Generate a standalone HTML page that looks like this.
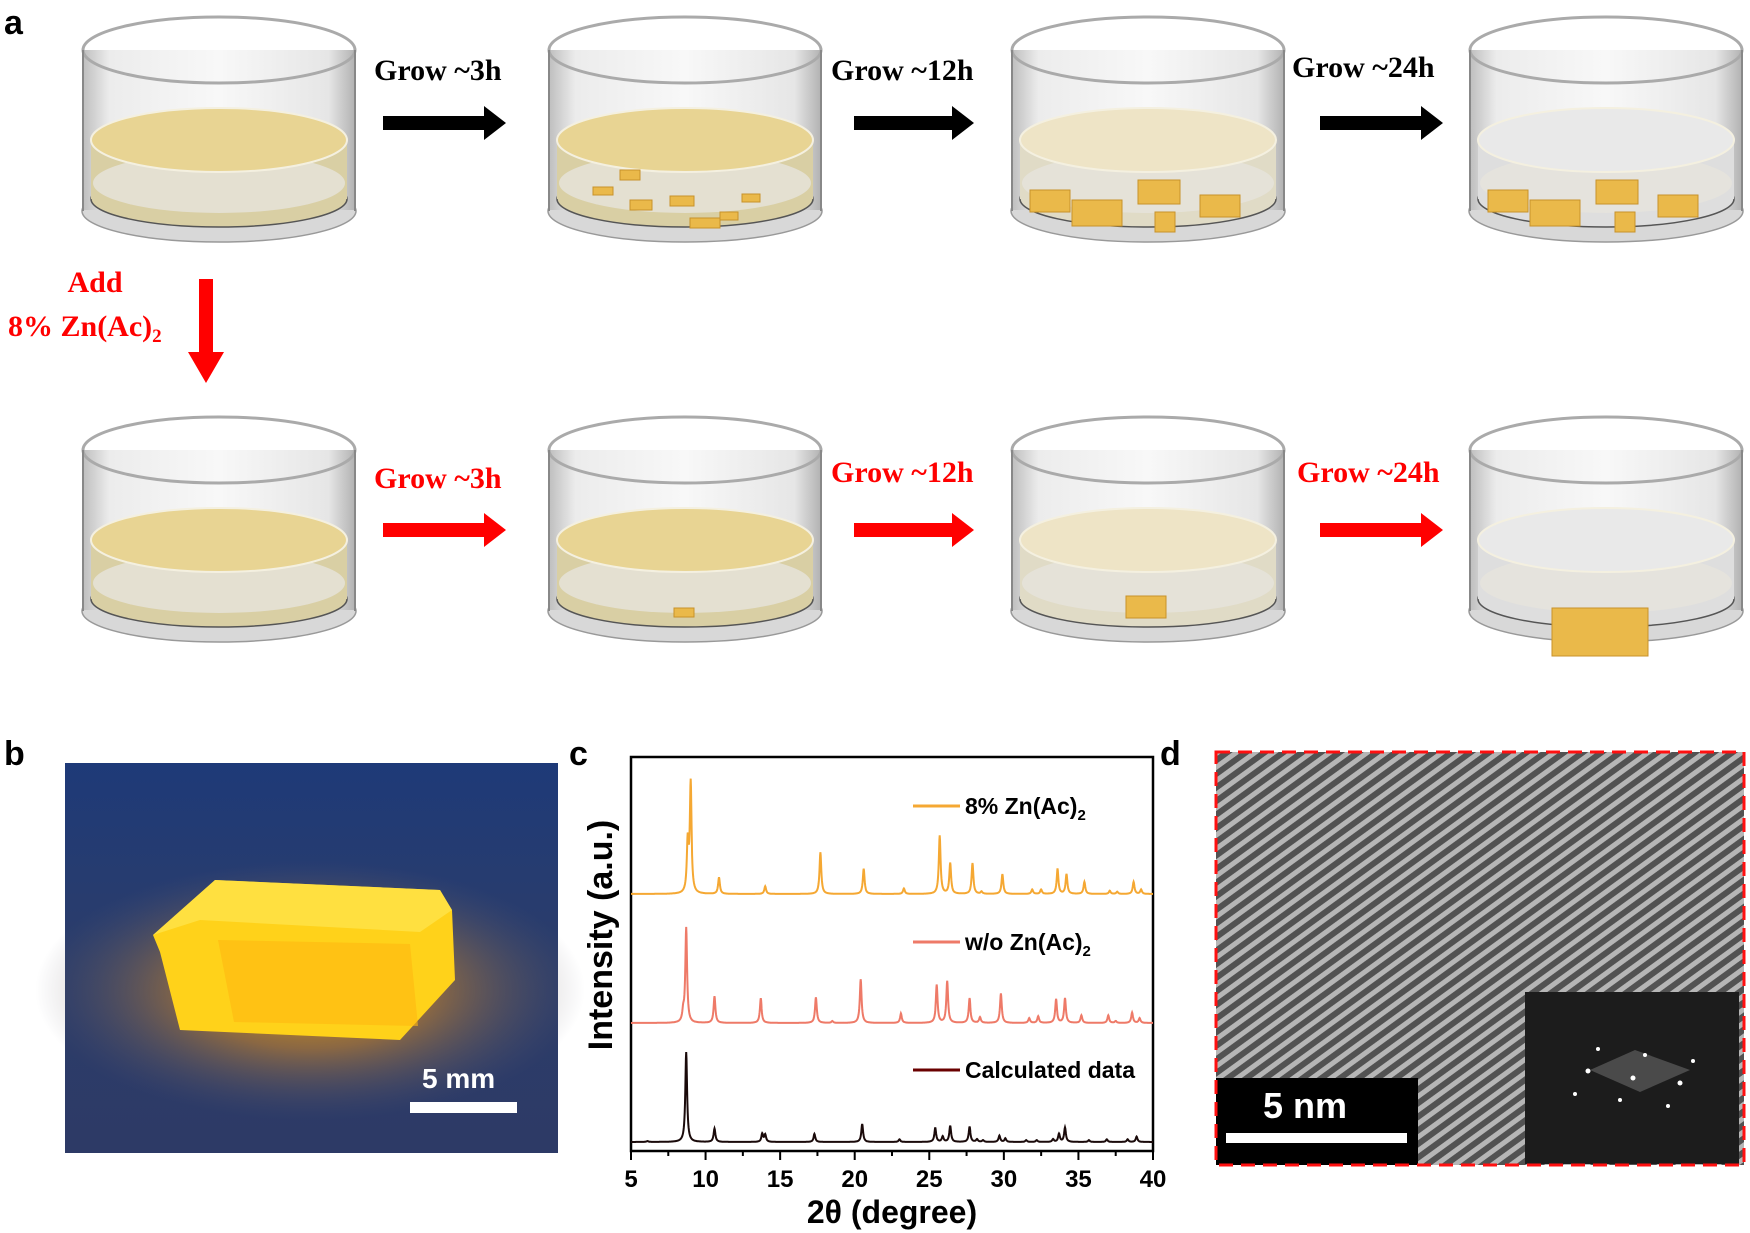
<!DOCTYPE html>
<html><head><meta charset="utf-8"><style>
html,body{margin:0;padding:0;background:#fff}
body{width:1750px;height:1233px;overflow:hidden;position:relative;font-family:"Liberation Sans",sans-serif}
svg{position:absolute;left:0;top:0}
</style></head><body>
<svg id="fig" width="1750" height="1233" viewBox="0 0 1750 1233" xmlns="http://www.w3.org/2000/svg">
<defs>
<linearGradient id="glass" x1="0" x2="1" y1="0" y2="0">
<stop offset="0" stop-color="#bdbdbd"/><stop offset="0.1" stop-color="#ececec"/><stop offset="0.5" stop-color="#f8f8f8"/><stop offset="0.9" stop-color="#e6e6e6"/><stop offset="1" stop-color="#b0b0b0"/></linearGradient>
<radialGradient id="glow" cx="0.5" cy="0.5" r="0.5"><stop offset="0" stop-color="#ffb000" stop-opacity="0.9"/><stop offset="0.45" stop-color="#c9852a" stop-opacity="0.6"/><stop offset="1" stop-color="#5a5a70" stop-opacity="0"/></radialGradient>
<linearGradient id="photo" x1="0" x2="0" y1="0" y2="1"><stop offset="0" stop-color="#1e3a78"/><stop offset="0.5" stop-color="#2c3d6a"/><stop offset="1" stop-color="#2d3a66"/></linearGradient>
<pattern id="lattice" width="11" height="11" patternUnits="userSpaceOnUse" patternTransform="rotate(-36)">
<rect width="11" height="11" fill="#474747"/><rect y="2" width="11" height="5" fill="#c4c4c4"/></pattern>
</defs>
<g id="panelA"></g>
<g id="panelB">
<rect x="65" y="763" width="493" height="390" fill="url(#photo)"/>
<ellipse cx="310" cy="990" rx="275" ry="130" fill="url(#glow)"/>
<polygon points="153,935 215,880 440,890 452,910 455,980 400,1040 180,1030 160,952" fill="#ffd21a"/>
<polygon points="215,880 440,890 452,910 420,932 200,920 153,935" fill="#ffe44a" opacity="0.8"/>
<polygon points="218,940 410,944 418,1026 234,1022" fill="#ffb810" opacity="0.6"/>
<text x="422" y="1088" font-family="Liberation Sans" font-weight="bold" font-size="28" fill="#fff">5 mm</text>
<rect x="410" y="1102" width="107" height="11" fill="#fff"/>
</g>
<g id="panelD">
<rect x="1216" y="752" width="528" height="413" fill="url(#lattice)"/>
<rect x="1216" y="752" width="528" height="413" fill="#808080" opacity="0.2"/>
<rect x="1525" y="992" width="214" height="172" fill="#1c1c1c"/>
<polygon points="1590,1070 1635,1050 1690,1070 1640,1092" fill="#777" opacity="0.5"/>
<g fill="#fff">
<circle cx="1588" cy="1071" r="2.5"/><circle cx="1633" cy="1078" r="2.5"/><circle cx="1680" cy="1083" r="2.5"/><circle cx="1598" cy="1049" r="2"/><circle cx="1645" cy="1055" r="2"/><circle cx="1693" cy="1061" r="2"/><circle cx="1575" cy="1094" r="2"/><circle cx="1620" cy="1100" r="2"/><circle cx="1668" cy="1106" r="2"/></g>
<rect x="1216" y="1078" width="202" height="87" fill="#000"/>
<text x="1263" y="1118" font-family="Liberation Sans" font-weight="bold" font-size="36" fill="#fff">5 nm</text>
<rect x="1226" y="1133" width="181" height="10" fill="#fff"/>
<rect x="1216" y="752" width="528" height="413" fill="none" stroke="#ff1010" stroke-width="3" stroke-dasharray="14,8"/>
</g>
<g id="chart"></g>
<g font-family="Liberation Sans" font-weight="bold" font-size="34" fill="#000">
<text x="4" y="34">a</text>
<text x="4" y="765">b</text>
<text x="569" y="765">c</text>
<text x="1160" y="765">d</text>
</g>
</svg>
<script>
const NS='http://www.w3.org/2000/svg';
function mk(tag,attrs,parent){const e=document.createElementNS(NS,tag);for(const k in attrs)e.setAttribute(k,attrs[k]);parent.appendChild(e);return e;}
// ---------- Panel A ----------
const A=document.getElementById('panelA');
const colX=[81,547,1010,1468];
const rowY=[13,413];
const liquidTop=['#e8d493','#e8d493','#eee4c6','#e9e9e9'];
const liquidBody=['#d9cfa4','#d9cfa4','#e0dbc6','#dedede'];
function beaker(x0,y0,i,r){
  const g=mk('g',{},A);
  
  
  const cx=x0+138;
  mk('ellipse',{cx:cx,cy:y0+198,rx:137,ry:31,fill:'#d8d8d8',stroke:'#999','stroke-width':1.5},g);
  mk('rect',{x:x0+1,y:y0+37,width:274,height:160,fill:'url(#glass)'},g);
  mk('ellipse',{cx:cx,cy:y0+186,rx:128,ry:28,fill:liquidBody[i],stroke:'#555','stroke-width':1.5},g);
  mk('rect',{x:x0+10,y:y0+128,width:256,height:58,fill:liquidBody[i]},g);
  mk('ellipse',{cx:cx,cy:y0+170,rx:126,ry:30,fill:'#e6e4dc',opacity:0.8},g);
  mk('ellipse',{cx:cx,cy:y0+127,rx:128,ry:32,fill:liquidTop[i],stroke:'#f4f0e0','stroke-width':2},g);
  mk('ellipse',{cx:cx,cy:y0+37,rx:136,ry:33,fill:'none',stroke:'#aaa','stroke-width':3},g);
  mk('line',{x1:x0+2,y1:y0+37,x2:x0+2,y2:y0+198,stroke:'#888','stroke-width':2},g);
  mk('line',{x1:x0+274,y1:y0+37,x2:x0+274,y2:y0+198,stroke:'#888','stroke-width':2},g);
}
for(let r=0;r<2;r++)for(let i=0;i<4;i++)beaker(colX[i],rowY[r],i,r);
const crystals=[[593,187,20,8],[620,170,20,10],[630,200,22,10],[670,196,24,10],[690,218,30,10],[720,212,18,8],[742,194,18,8],
[1030,190,40,22],[1072,200,50,26],[1138,180,42,24],[1155,212,20,20],[1200,195,40,22],
[1488,190,40,22],[1530,200,50,26],[1596,180,42,24],[1615,212,20,20],[1658,195,40,22],
[674,608,20,9],[1126,596,40,22],[1552,608,96,48]];
crystals.forEach((c,k)=>{const e=mk('rect',{x:c[0],y:c[1],width:c[2],height:c[3],fill:'#eab94a',stroke:'#c8922a','stroke-width':1},A);
});
function arrow(x1,x2,y,color,name){const e=mk('polygon',{points:`${x1},${y-7} ${x2-22},${y-7} ${x2-22},${y-17} ${x2},${y} ${x2-22},${y+17} ${x2-22},${y+7} ${x1},${y+7}`,fill:color},A);
}
const arrowX=[[383,506],[854,974],[1320,1443]];
const labelsTop=[[374,80,'Grow ~3h'],[831,80,'Grow ~12h'],[1292,77,'Grow ~24h']];
const labelsBot=[[374,488,'Grow ~3h'],[831,482,'Grow ~12h'],[1297,482,'Grow ~24h']];
arrowX.forEach((a,k)=>{arrow(a[0],a[1],123,'#000','black-arrow-'+(k+1));arrow(a[0],a[1],530,'#f00','red-arrow-'+(k+1));});
function label(l,color,name){const t=mk('text',{x:l[0],y:l[1],'font-family':'Liberation Serif','font-weight':'bold','font-size':30,fill:color},A);t.textContent=l[2];
}
labelsTop.forEach((l,k)=>label(l,'#000','step-label-top-'+(k+1)));
labelsBot.forEach((l,k)=>label(l,'#f00','step-label-bottom-'+(k+1)));
const va=mk('polygon',{points:'199,279 213,279 213,352 224,352 206,383 188,352 199,352',fill:'#f00'},A);

const t1=mk('text',{x:95,y:292,'text-anchor':'middle','font-family':'Liberation Serif','font-weight':'bold','font-size':30,fill:'#f00'},A);t1.textContent='Add';

const t2=mk('text',{x:8,y:336,'font-family':'Liberation Serif','font-weight':'bold','font-size':30,fill:'#f00'},A);
t2.innerHTML='8% Zn(Ac)<tspan font-size="19" dy="6">2</tspan>';


// ---------- Panel C chart data ----------
const xTicks=[5,10,15,20,25,30,35,40];
const seriesNames=['8% Zn(Ac)2','w/o Zn(Ac)2','Calculated data'];
const znPos=[8.8,9.0,10.9,14.0,17.7,20.6,23.3,25.7,26.4,27.9,28.5,29.9,31.9,32.5,33.6,34.2,35.4,37.1,37.6,38.7,39.2];
const znInt=[0.45,1.0,0.15,0.07,0.38,0.23,0.05,0.53,0.28,0.28,0.02,0.18,0.04,0.04,0.23,0.18,0.11,0.03,0.02,0.11,0.04];
const woPos=[8.5,8.7,10.6,13.7,17.4,18.5,20.4,23.1,25.5,26.2,27.7,28.4,29.8,31.7,32.3,33.5,34.1,35.2,37.0,37.5,38.6,39.1];
const woInt=[0.1,1.0,0.28,0.26,0.27,0.02,0.46,0.1,0.4,0.44,0.26,0.06,0.31,0.05,0.07,0.25,0.26,0.08,0.08,0.02,0.11,0.05];
const calcPos=[6.1,8.7,10.6,13.8,14.0,17.3,20.5,23.0,25.4,25.9,26.4,27.7,28.2,28.6,29.7,30.1,31.5,32.2,33.3,33.7,34.1,35.7,36.9,38.3,38.9];
const calcInt=[0.01,1.0,0.15,0.09,0.08,0.09,0.2,0.03,0.16,0.06,0.18,0.17,0.03,0.02,0.07,0.04,0.02,0.02,0.03,0.09,0.16,0.02,0.03,0.03,0.06];
// ---------- chart layout ----------
const C=document.getElementById('chart');
const L=631,R=1153,T=757,B=1151;
const xs=v=>L+(v-5)/(40-5)*(R-L);
const base=[894,1023,1142], scaleH=[110,95,90];
const colors=['#f5a833','#ee7a68','#1a0a0a'];
const data=[[znPos,znInt],[woPos,woInt],[calcPos,calcInt]];
const box=mk('rect',{x:L,y:T,width:R-L,height:B-T,fill:'none',stroke:'#000','stroke-width':2.5},C);

data.forEach((d,s)=>{
  let pts=[];const w=0.07;
  for(let x=5;x<=40.0001;x+=0.02){let y=0;for(let k=0;k<d[0].length;k++){const dx=(x-d[0][k])/w;y+=d[1][k]/(1+dx*dx);}
    pts.push(xs(x).toFixed(1)+','+(base[s]-y*scaleH[s]).toFixed(1));}
  const p=mk('polyline',{points:pts.join(' '),fill:'none',stroke:colors[s],'stroke-width':2},C);
  
});
for(let v=5;v<=40;v+=2.5){const major=(v%5===0);mk('line',{x1:xs(v),x2:xs(v),y1:B,y2:B+(major?9:5),stroke:'#000','stroke-width':2},C);}
xTicks.forEach(v=>{const t=mk('text',{x:xs(v),y:B+36,'text-anchor':'middle','font-family':'Liberation Sans','font-weight':'bold','font-size':24,fill:'#000'},C);t.textContent=v;
});
const xt=mk('text',{x:892,y:1223,'text-anchor':'middle','font-family':'Liberation Sans','font-weight':'bold','font-size':32,fill:'#000'},C);xt.textContent='2θ (degree)';

const yt=mk('text',{x:0,y:0,transform:'translate(612,935) rotate(-90)','text-anchor':'middle','font-family':'Liberation Sans','font-weight':'bold','font-size':34,fill:'#000'},C);yt.textContent='Intensity (a.u.)';

const legY=[806,942,1070];
seriesNames.forEach((n,s)=>{
  const ln=mk('line',{x1:913,x2:960,y1:legY[s],y2:legY[s],stroke:s===2?'#6a0000':colors[s],'stroke-width':3},C);
  
  const t=mk('text',{x:965,y:legY[s]+8,'font-family':'Liberation Sans','font-weight':'bold','font-size':23,fill:'#000'},C);
  t.innerHTML=n.endsWith('2')?n.slice(0,-1)+'<tspan font-size="15" dy="6">2</tspan>':n;
  
});
</script>
</body></html>
